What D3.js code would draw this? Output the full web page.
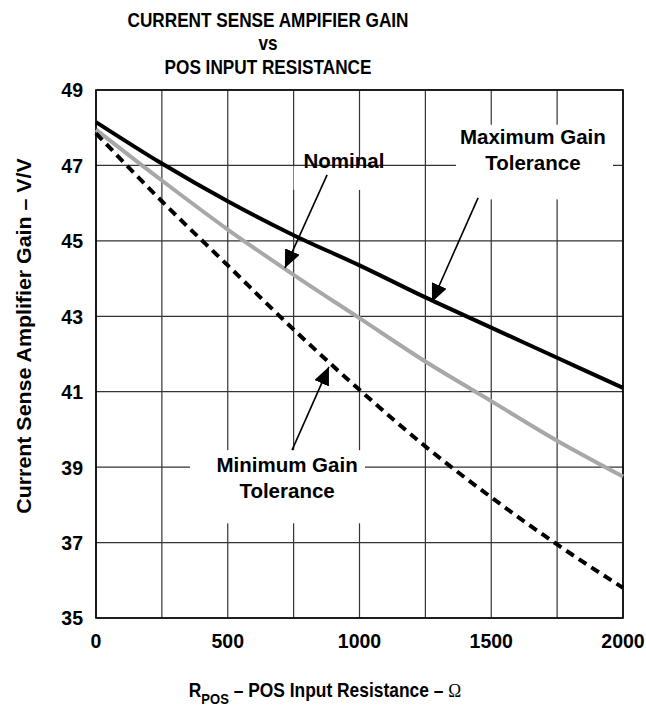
<!DOCTYPE html>
<html>
<head>
<meta charset="utf-8">
<script src="https://cdn.jsdelivr.net/npm/d3@7"></script>
<style>
  body { margin: 0; background: #fff; }
  text { font-family: Arial, "Liberation Sans", sans-serif; font-weight: bold; fill: #000; }
</style>
</head>
<body>
<div id="chart"></div>
<script>
// values
const resistance = [0, 250, 500, 750, 1000, 1250, 1500, 1750, 2000];
const gainMax = [48.15, 47.05, 46.05, 45.15, 44.35, 43.5, 42.7, 41.9, 41.1];
const gainNominal = [47.95, 46.6, 45.3, 44.1, 42.95, 41.8, 40.75, 39.7, 38.75];
const gainMin = [47.85, 46.05, 44.35, 42.65, 41.05, 39.55, 38.2, 36.95, 35.8];
const xTicks = [0, 500, 1000, 1500, 2000];
const yTicks = [35, 37, 39, 41, 43, 45, 47, 49];
const xGrid = d3.range(0, 2001, 250);

const W = 646, H = 707;
const margin = { top: 90, right: 23, bottom: 89, left: 96 };
const width = W - margin.left - margin.right;
const height = H - margin.top - margin.bottom;

const svg = d3.select("#chart").append("svg")
    .attr("width", W)
    .attr("height", H);

// title
const title = ["CURRENT SENSE AMPIFIER GAIN", "vs", "POS INPUT RESISTANCE"];
svg.selectAll(".title")
    .data(title)
    .enter().append("text")
    .attr("class", "title")
    .attr("text-anchor", "middle")
    .attr("transform", (d, i) => `translate(268,${[27, 50, 74][i]}) scale(1,1.18)`)
    .style("font-size", "17.2px")
    .text(d => d);

const g = svg.append("g")
    .attr("transform", `translate(${margin.left},${margin.top})`);

const x = d3.scaleLinear().domain([0, 2000]).range([0, width]);
const y = d3.scaleLinear().domain([35, 49]).range([height, 0]);

// grid
g.selectAll(".vgrid")
    .data(xGrid)
    .enter().append("line")
    .attr("x1", d => x(d)).attr("x2", d => x(d))
    .attr("y1", 0).attr("y2", height)
    .attr("stroke", "#333").attr("stroke-width", 1.2);

g.selectAll(".hgrid")
    .data(yTicks)
    .enter().append("line")
    .attr("x1", 0).attr("x2", width)
    .attr("y1", d => y(d)).attr("y2", d => y(d))
    .attr("stroke", "#333").attr("stroke-width", 1.2);

g.append("rect")
    .attr("width", width).attr("height", height)
    .attr("fill", "none").attr("stroke", "#000").attr("stroke-width", 1.6);

// tick labels
g.selectAll(".ylab")
    .data(yTicks)
    .enter().append("text")
    .attr("text-anchor", "end")
    .attr("dy", "0.36em")
    .attr("transform", d => `translate(-13,${y(d)}) scale(1,1.05)`)
    .style("font-size", "19.5px")
    .text(d => d);

g.selectAll(".xlab")
    .data(xTicks)
    .enter().append("text")
    .attr("text-anchor", "middle")
    .attr("transform", d => `translate(${x(d)},${height + 30}) scale(1,1.05)`)
    .style("font-size", "19.5px")
    .text(d => d);

// axis titles
const xt = svg.append("text")
    .attr("text-anchor", "middle")
    .attr("transform", "translate(325,697) scale(1,1.12)")
    .style("font-size", "17.4px");
xt.append("tspan").text("R");
xt.append("tspan").attr("dy", 6).style("font-size", "13px").text("POS");
xt.append("tspan").attr("dy", -6).text(" – POS Input Resistance – ");
xt.append("tspan").style("font-family", "'Liberation Serif', serif").style("font-weight", "normal").text("Ω");

svg.append("text")
    .attr("text-anchor", "middle")
    .attr("transform", "translate(31,336) rotate(-90) scale(1.08,1)")
    .style("font-size", "19.8px")
    .text("Current Sense Amplifier Gain – V/V");

// annotation label boxes (white, cover the grid)
const labels = [
    { lines: ["Nominal"], cx: 941, base: 46.93, box: [750, 1137, 46.98, 46.35] },
    { lines: ["Maximum Gain", "Tolerance"], cx: 1658, base: 47.57, box: [1366, 1962, 48.08, 46.1] },
    { lines: ["Minimum Gain", "Tolerance"], cx: 725, base: 38.87, box: [357, 1021, 39.45, 37.51] }
];

g.selectAll(".lbox")
    .data(labels)
    .enter().append("rect")
    .attr("x", d => x(d.box[0]))
    .attr("y", d => y(d.box[2]))
    .attr("width", d => x(d.box[1]) - x(d.box[0]))
    .attr("height", d => y(d.box[3]) - y(d.box[2]))
    .attr("fill", "#fff");

// curves
const line = d3.line()
    .x((d, i) => x(resistance[i]))
    .y(d => y(d))
    .curve(d3.curveMonotoneX);

g.append("path").datum(gainNominal)
    .attr("d", line).attr("fill", "none")
    .attr("stroke", "#a8a8a8").attr("stroke-width", 4);

g.append("path").datum(gainMin)
    .attr("d", line).attr("fill", "none")
    .attr("stroke", "#000").attr("stroke-width", 4)
    .attr("stroke-dasharray", "9,6");

g.append("path").datum(gainMax)
    .attr("d", line).attr("fill", "none")
    .attr("stroke", "#000").attr("stroke-width", 4);

// arrows
svg.append("defs").append("marker")
    .attr("id", "head")
    .attr("viewBox", "0 0 18 16")
    .attr("refX", 18).attr("refY", 8)
    .attr("markerWidth", 18).attr("markerHeight", 16)
    .attr("markerUnits", "userSpaceOnUse")
    .attr("orient", "auto")
    .append("path").attr("d", "M0,0 L18,8 L0,16 Z").attr("fill", "#000");

const arrows = [
    { from: [877, 46.75], to: [717, 44.28] },
    { from: [1450, 46.14], to: [1275, 43.38] },
    { from: [744, 39.45], to: [884, 41.66] }
];

g.selectAll(".arrow")
    .data(arrows)
    .enter().append("line")
    .attr("x1", d => x(d.from[0])).attr("y1", d => y(d.from[1]))
    .attr("x2", d => x(d.to[0])).attr("y2", d => y(d.to[1]))
    .attr("stroke", "#000").attr("stroke-width", 1.6)
    .attr("marker-end", "url(#head)");

// annotation text
labels.forEach(l => {
    l.lines.forEach((t, i) => {
        g.append("text")
            .attr("text-anchor", "middle")
            .attr("transform", `translate(${x(l.cx)},${y(l.base) + i * 26})`)
            .style("font-size", "20.5px")
            .text(t);
    });
});
</script>
</body>
</html>
